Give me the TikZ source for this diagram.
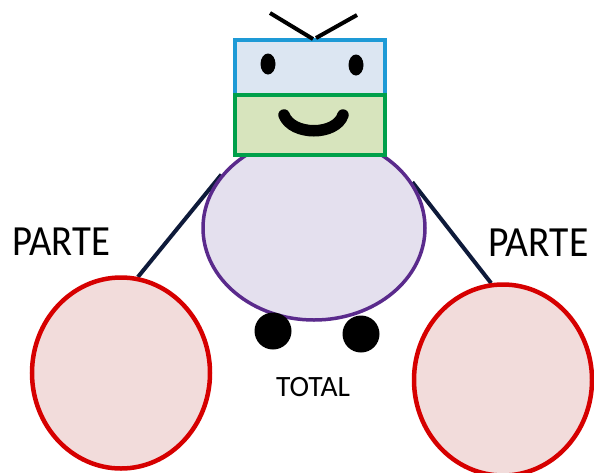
\documentclass[tikz,border=0pt]{standalone}
\usepackage{fontspec}
\setmainfont{Carlito}
\usetikzlibrary{shapes.geometric}
\definecolor{headblue}{HTML}{1E9AD6}
\definecolor{headbluefill}{HTML}{DCE6F2}
\definecolor{facegreen}{HTML}{00A04A}
\definecolor{facegreenfill}{HTML}{D7E4BD}
\definecolor{bodypurple}{HTML}{5A2A8C}
\definecolor{bodyfill}{HTML}{E4E0EE}
\definecolor{partred}{HTML}{D60000}
\definecolor{partfill}{HTML}{F2DCDB}
\definecolor{linknavy}{HTML}{0E1A3A}
\pgfdeclarelayer{paper}
\pgfdeclarelayer{links}
\pgfsetlayers{paper,links,main}
\tikzset{
  partcircle/.style={ellipse, draw=partred, fill=partfill, line width=4.5pt,
    inner sep=0pt, minimum width=178pt, minimum height=191pt},
  bodyshape/.style={ellipse, draw=bodypurple, fill=bodyfill, line width=3.5pt,
    inner sep=0pt, minimum width=222pt, minimum height=184pt},
  headbox/.style={rectangle, line width=4pt, inner sep=0pt,
    minimum width=150pt, minimum height=56pt},
  link/.style={draw=linknavy, line width=4pt},
  antenna/.style={draw=black, line width=4pt},
  label/.style={inner sep=0pt, text=black},
  foot/.style={circle, fill=black, inner sep=0pt, minimum size=37pt},
  eye/.style={ellipse, fill=black, inner sep=0pt, minimum width=15pt, minimum height=21pt}
}
\begin{document}
\begin{tikzpicture}[x=1pt, y=-1pt]
\begin{pgfonlayer}{paper}
\fill[white] (0,0) rectangle (594,472);
\end{pgfonlayer}
\useasboundingbox (0,0) rectangle (594,472);

% the whole and its two parts
\node[partcircle] (lp) at (121,373) {};
\node[partcircle] (rp) at (503,380) {};
\node[bodyshape] (body) at (314,228) {};

% links from the whole to each part, kept behind the shapes
\begin{pgfonlayer}{links}
\path[link] (lp.80) -- (body.150);
\path[link] (rp.97) -- (body.25);
\end{pgfonlayer}

% feet
\node[foot] (lfoot) at (273,331) {};
\node[foot] (rfoot) at (361,334) {};

% head
\node[headbox, draw=headblue, fill=headbluefill] (top) at (310,68) {};
\node[headbox, draw=facegreen, fill=facegreenfill, minimum height=60pt] (face) at (310,125) {};
\node[eye] (leye) at (268,64) {};
\node[eye] (reye) at (356,65) {};
\draw[line width=11.5pt, line cap=round] (284,115) .. controls (292,136) and (336,136) .. (343,115);

% antenna
\coordinate (antl) at (270,13);
\coordinate (antr) at (357,15);
\coordinate (antml) at (313,39);
\coordinate (antmr) at (316,38);
\path[antenna] (antl) -- (antml);
\path[antenna] (antr) -- (antmr);

% labels
\node[label, anchor=base west, font=\fontsize{43}{43}\selectfont, xscale=0.9] (lpl) at (12,255) {PARTE};
\node[label, anchor=base west, font=\fontsize{43}{43}\selectfont, xscale=0.92] (rpl) at (488,256) {PARTE};
\node[label, anchor=base west, font=\fontsize{29.5}{29.5}\selectfont] (tot) at (276,396) {TOTAL};
\end{tikzpicture}
\end{document}
